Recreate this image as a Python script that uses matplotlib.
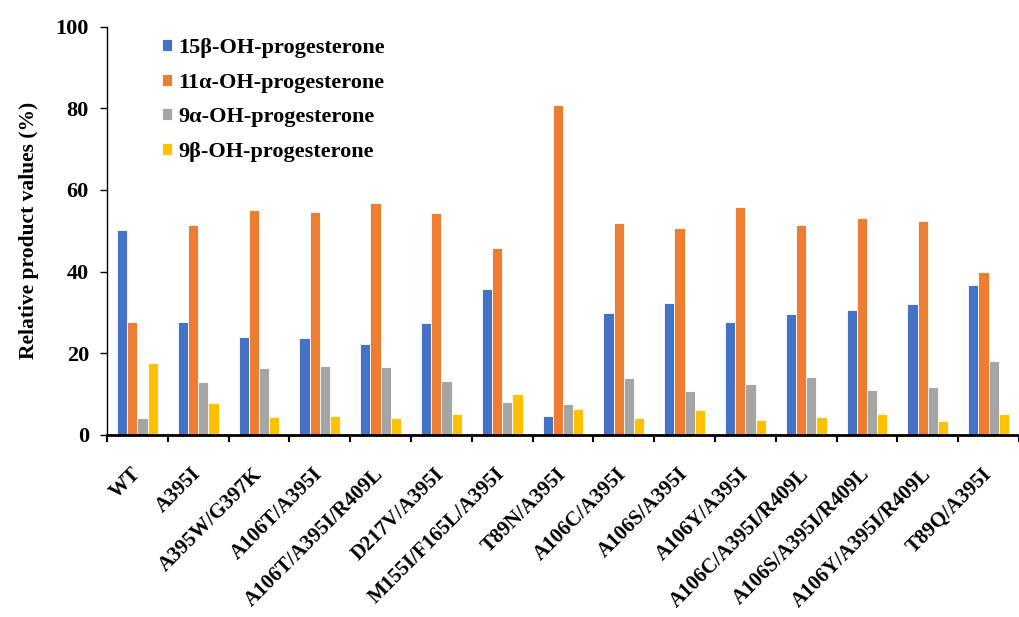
import numpy as np
import matplotlib
matplotlib.use("Agg")
import matplotlib.pyplot as plt

mutants = ["WT", "A395I", "A395W/G397K", "A106T/A395I", "A106T/A395I/R409L",
           "D217V/A395I", "M155I/F165L/A395I", "T89N/A395I", "A106C/A395I",
           "A106S/A395I", "A106Y/A395I", "A106C/A395I/R409L",
           "A106S/A395I/R409L", "A106Y/A395I/R409L", "T89Q/A395I"]

oh15b = [50.3, 27.6, 24.1, 23.8, 22.3, 27.3, 35.8, 4.7, 29.8, 32.2, 27.6, 29.6, 30.7, 32.1, 36.6]
oh11a = [27.7, 51.5, 55.0, 54.5, 56.9, 54.3, 45.8, 80.9, 51.8, 50.7, 55.9, 51.5, 53.1, 52.3, 39.8]
oh9a = [4.1, 12.9, 16.3, 16.8, 16.6, 13.2, 8.0, 7.7, 13.9, 10.8, 12.4, 14.1, 10.9, 11.8, 18.0]
oh9b = [17.6, 7.8, 4.3, 4.7, 4.2, 5.1, 10.0, 6.4, 4.2, 6.1, 3.7, 4.4, 5.1, 3.5, 5.2]

series = [("15\u03b2-OH-progesterone", oh15b, "#4472C4"),
          ("11\u03b1-OH-progesterone", oh11a, "#ED7D31"),
          ("9\u03b1-OH-progesterone", oh9a, "#A5A5A5"),
          ("9\u03b2-OH-progesterone", oh9b, "#FFC000")]

plt.rcParams["font.family"] = ["Liberation Serif", "DejaVu Serif"]
plt.rcParams["font.weight"] = "bold"

fig = plt.figure(figsize=(10.19, 6.17), dpi=100)
ax = fig.add_axes([0.105, 0.295, 0.895, 0.662])

x = np.arange(len(mutants))
w = 0.167
for i, (name, vals, col) in enumerate(series):
    ax.bar(x + (i - 1.5) * w, vals, width=w, color=col, edgecolor="white",
           linewidth=0.6, label=name)

ax.set_ylim(0, 100)
ax.set_xlim(-0.5, 14.35)
ax.set_yticks(range(0, 101, 20))
ax.tick_params(axis="y", labelsize=16, length=5, width=1, pad=8)
for t in ax.get_yticklabels():
    t.set_fontweight("bold")

# group boundary ticks, labels at group centres
ax.set_xticks(np.arange(-0.5, 15, 1), minor=False)
ax.set_xticklabels([])
ax.set_xticks(x, minor=True)
ax.set_xticklabels(mutants, minor=True, rotation=45, ha="right", va="center",
                   rotation_mode="anchor", fontsize=15, fontweight="bold")
ax.tick_params(axis="x", which="major", length=5, width=1.5, direction="out")
ax.tick_params(axis="x", which="minor", length=0, pad=26)

ax.spines["top"].set_visible(False)
ax.spines["right"].set_visible(False)
ax.spines["left"].set_linewidth(1)
ax.spines["bottom"].set_linewidth(2)

ax.set_ylabel("Relative product values (%)", fontsize=15.5, fontweight="bold", labelpad=12)

ax.legend(loc="upper left", bbox_to_anchor=(0.038, 1.02), frameon=False,
          prop={"size": 16, "weight": "bold"}, handlelength=0.45, handleheight=0.45,
          handletextpad=0.3, labelspacing=0.65)

fig.savefig("out.png", dpi=100)
